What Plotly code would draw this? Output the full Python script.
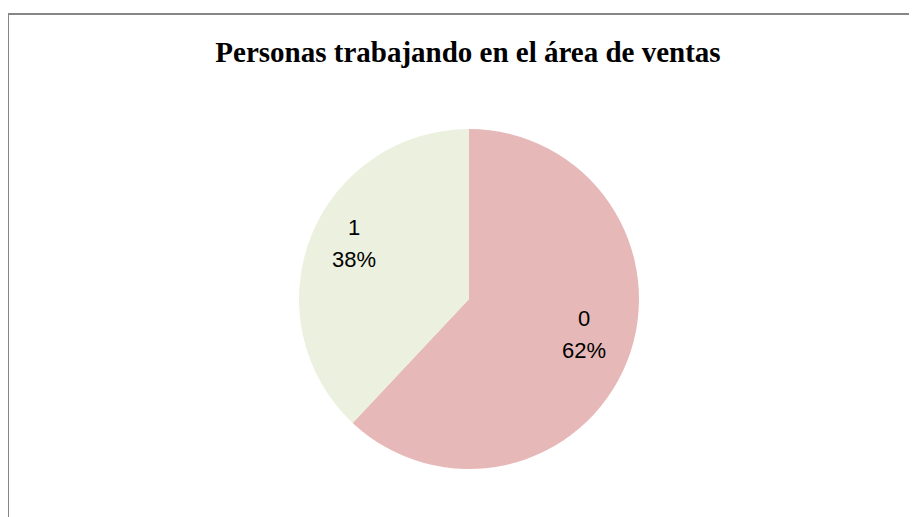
import math
import plotly.graph_objects as go

labels = ["0", "1"]
values = [62, 38]
colors = ["#E6B9B8", "#EBF1DE"]
title_text = "Personas trabajando en el área de ventas"

# page has an 8px body margin, so figure coords = screen coords - 8
W, H = 909, 509
cx, cy, r = 461, 291, 170

fig = go.Figure(go.Pie(
    labels=labels,
    values=values,
    sort=False,
    direction="clockwise",
    rotation=0,
    marker=dict(colors=colors, line=dict(width=0)),
    textinfo="none",
    showlegend=False,
    domain=dict(x=[(cx - r) / W, (cx + r) / W], y=[(H - cy - r) / H, (H - cy + r) / H]),
))

# data labels placed at the middle angle of each slice
total = sum(values)
annotations = []
start = 0.0
label_r = 0.73 * r
for lab, v in zip(labels, values):
    frac = v / total
    mid = (start + frac / 2) * 2 * math.pi
    start += frac
    px = cx + label_r * math.sin(mid)
    py = cy - label_r * math.cos(mid) - 10
    for txt, shift in ((lab, 16), (f"{round(frac * 100)}%", -16)):
        annotations.append(dict(
            x=px / W, y=1 - py / H, xref="paper", yref="paper",
            text=txt, showarrow=False, xanchor="center", yanchor="middle",
            yshift=shift,
            font=dict(family="Liberation Sans, Arial, sans-serif", size=22, color="#000000"),
        ))

fig.update_layout(
    width=W, height=H,
    margin=dict(l=0, r=0, t=0, b=0),
    paper_bgcolor="#FFFFFF",
    plot_bgcolor="#FFFFFF",
    title=dict(
        text="<b>" + title_text + "</b>",
        x=460 / W, xanchor="center",
        y=1 - 44 / H, yanchor="middle",
        font=dict(family="Liberation Serif, Times New Roman, serif", size=29, color="#000000"),
    ),
    annotations=annotations,
    shapes=[dict(
        type="rect", xref="paper", yref="paper",
        x0=0, x1=1.02, y0=-0.02, y1=1 - 6 / H,
        line=dict(color="#868686", width=2),
        fillcolor="rgba(0,0,0,0)",
    )],
)

fig.write_html("out.html")
